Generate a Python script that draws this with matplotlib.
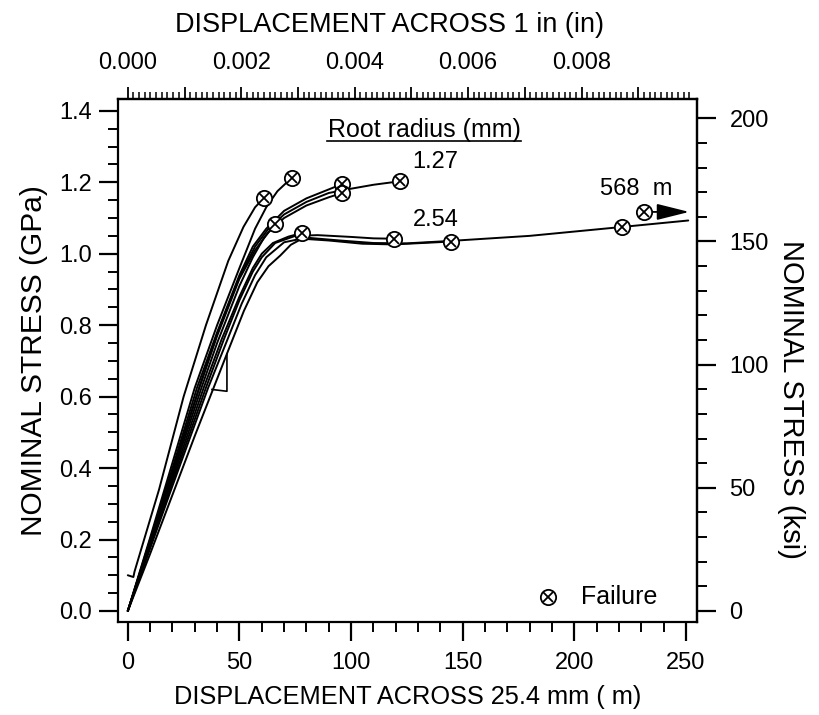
import matplotlib
matplotlib.use("Agg")
import matplotlib.pyplot as plt
import numpy as np

# ---------------- data (displacement in micrometres, stress in GPa) ----------------
c1_x = [0.0, 2.5, 3.0, 14, 25, 35, 45, 51.8, 57, 61.1]
c1_y = [0.10, 0.095, 0.11, 0.34, 0.60, 0.80, 0.98, 1.075, 1.13, 1.157]

c2_x = [0.0, 10, 20, 30, 40, 50, 57, 62, 67, 73.5]
c2_y = [0.0, 0.205, 0.415, 0.625, 0.80, 0.96, 1.07, 1.13, 1.175, 1.213]

c3_x = [0.0, 10, 20, 31, 40, 50, 56, 62, 70, 80, 90, 96]
c3_y = [0.0, 0.20, 0.40, 0.625, 0.78, 0.94, 1.02, 1.07, 1.12, 1.155, 1.18, 1.195]

c4_x = [0.0, 10, 20, 32, 40, 50, 57, 63, 70, 80, 90, 96]
c4_y = [0.0, 0.195, 0.39, 0.625, 0.77, 0.93, 1.01, 1.06, 1.10, 1.135, 1.158, 1.170]

c5_x = [0.0, 10, 20, 32, 40, 50, 57, 63, 70, 80, 90, 100, 110, 122.1]
c5_y = [0.0, 0.195, 0.39, 0.625, 0.775, 0.935, 1.02, 1.07, 1.11, 1.145, 1.17, 1.182, 1.193, 1.203]

c6_x = [0.0, 10, 20, 33, 40, 50, 56, 61, 66.1]
c6_y = [0.0, 0.19, 0.38, 0.625, 0.75, 0.91, 0.99, 1.045, 1.084]

c7_x = [0.0, 10, 20, 34, 42, 50, 56, 60, 65, 72, 78]
c7_y = [0.0, 0.185, 0.37, 0.625, 0.76, 0.88, 0.96, 1.00, 1.03, 1.048, 1.058]

c8_x = [0.0, 10, 20, 35, 43, 50, 56, 60, 66, 75, 85, 100, 110, 119.1]
c8_y = [0.0, 0.18, 0.36, 0.625, 0.76, 0.87, 0.95, 0.99, 1.03, 1.05, 1.052, 1.047, 1.043, 1.042]

c9_x = [0.0, 10, 20, 30, 44.4, 52, 58, 63, 68.3, 73, 78, 90, 105, 119, 132, 144.6]
c9_y = [0.0, 0.16, 0.325, 0.49, 0.72, 0.84, 0.92, 0.965, 0.995, 1.025, 1.042, 1.037, 1.028, 1.026, 1.030, 1.034]

c10_x = [0.0, 10, 20, 36, 44, 51, 57, 62, 70, 80, 95, 110, 125, 145, 180, 221.5, 251]
c10_y = [0.0, 0.175, 0.35, 0.625, 0.75, 0.86, 0.94, 0.99, 1.032, 1.045, 1.037, 1.030, 1.029, 1.036, 1.050, 1.075, 1.093]

step_x = [44.4, 44.4, 37.7]
step_y = [0.72, 0.615, 0.620]

fail_x = [61.1, 73.5, 96.0, 96.0, 122.1, 66.1, 78.0, 119.1, 144.6, 221.5]
fail_y = [1.157, 1.213, 1.195, 1.170, 1.203, 1.084, 1.058, 1.042, 1.034, 1.075]

beyond_x = [231.2]
beyond_y = [1.117]
arrow_end_x = 251.4

labels_text = ["1.27", "2.54", "568  m"]
labels_x = [137.8, 137.8, 227.7]
labels_y = [1.256, 1.095, 1.182]

top_ticks = [0.000, 0.001, 0.002, 0.003, 0.004, 0.005, 0.006, 0.007, 0.008, 0.009]
top_labels = ["0.000", "", "0.002", "", "0.004", "", "0.006", "", "0.008", ""]

curves = [(c1_x, c1_y), (c2_x, c2_y), (c3_x, c3_y), (c4_x, c4_y), (c5_x, c5_y),
          (c6_x, c6_y), (c7_x, c7_y), (c8_x, c8_y), (c9_x, c9_y), (c10_x, c10_y)]

# ---------------- fonts ----------------
plt.rcParams["font.family"] = ["Liberation Sans", "DejaVu Sans"]
FS = 17

fig = plt.figure(figsize=(8.19, 7.15), dpi=100)
ax = fig.add_axes([0.1435, 0.1305, 0.7075, 0.7305])

for cx, cy in curves:
    ax.plot(cx, cy, color="black", lw=1.4, solid_capstyle="round", solid_joinstyle="round")
ax.plot(step_x, step_y, color="black", lw=1.2)

def fail_marker(xs, ys, **kw):
    ax.plot(xs, ys, ls="none", marker="o", ms=11, mfc="white", mec="black", mew=1.3, zorder=5, **kw)
    ax.plot(xs, ys, ls="none", marker="x", ms=7.2, mec="black", mew=1.3, zorder=6, **kw)

fail_marker(fail_x, fail_y)
fail_marker(beyond_x, beyond_y)
ax.annotate("", xy=(arrow_end_x, beyond_y[0]), xytext=(beyond_x[0] + 3, beyond_y[0]),
            arrowprops=dict(arrowstyle="-|>,head_length=2.0,head_width=0.5", mutation_scale=10,
                            color="black", lw=1.3, shrinkA=0, shrinkB=0), zorder=4)

for t, x, y in zip(labels_text, labels_x, labels_y):
    ax.text(x, y, t, fontsize=FS, ha="center", va="center")

ax.text(0.529, 0.9416, "Root radius (mm)", transform=ax.transAxes, fontsize=18,
        ha="center", va="center")
ax.plot([0.361, 0.697], [0.921, 0.921], transform=ax.transAxes, color="black", lw=1.2)

# failure key
ax.plot([0.743], [0.047], transform=ax.transAxes, ls="none", marker="o", ms=11,
        mfc="white", mec="black", mew=1.3, clip_on=False)
ax.plot([0.743], [0.047], transform=ax.transAxes, ls="none", marker="x", ms=7.2,
        mec="black", mew=1.3, clip_on=False)
ax.text(0.800, 0.047, "Failure", transform=ax.transAxes, fontsize=18, ha="left", va="center")

# ---------------- axes ----------------
ax.set_xlim(-4.6, 254.9)
ax.set_ylim(-0.030, 1.432)
ax.set_xticks(np.arange(0, 251, 50))
ax.set_xticks(np.arange(0, 251, 10), minor=True)
yt = np.arange(0, 1.41, 0.2)
ax.set_yticks(yt)
ax.set_yticks(np.arange(0, 1.41, 0.05), minor=True)
ax.set_yticklabels([f"{v:.1f}" for v in yt])
for s in ax.spines.values():
    s.set_linewidth(1.6)
ax.tick_params(axis="both", which="major", direction="out", length=13.5, width=1.6, labelsize=FS)
ax.tick_params(axis="both", which="minor", direction="out", length=7.5, width=1.4)
ax.tick_params(axis="x", which="major", pad=8)
ax.tick_params(axis="y", which="major", pad=5)

ax.set_xlabel("DISPLACEMENT ACROSS 25.4 mm ( m)", fontsize=18.3, labelpad=8)
ax.set_ylabel("NOMINAL STRESS (GPa)", fontsize=21.5, labelpad=8)

# top axis: inches
top = ax.secondary_xaxis("top", functions=(lambda u: u / 25400.0, lambda i: i * 25400.0))
top.set_xticks(top_ticks)
top.set_xticks(np.arange(0, 0.00995, 0.0001), minor=True)
top.set_xticklabels(top_labels)
top.tick_params(which="major", direction="out", length=8.5, width=1.3, pad=10, labelsize=FS)
top.tick_params(which="minor", direction="out", length=5, width=1.1)
top.set_xlabel("DISPLACEMENT ACROSS 1 in (in)", fontsize=19.5, labelpad=14)
top.xaxis.label.set_x(0.47)
top.spines["top"].set_linewidth(1.6)

# right axis: ksi
right = ax.secondary_yaxis("right", functions=(lambda g: g * 145.038, lambda k: k / 145.038))
right.set_yticks(np.arange(0, 201, 50))
right.set_yticks(np.arange(0, 201, 10), minor=True)
right.tick_params(which="major", direction="out", length=13.5, width=1.6, labelsize=FS, pad=10)
right.tick_params(which="minor", direction="out", length=7, width=1.4)
right.set_ylabel("NOMINAL STRESS (ksi)", fontsize=21, rotation=270, labelpad=26)
right.yaxis.label.set_y(0.425)
right.spines["right"].set_linewidth(1.6)

fig.savefig("out.png", dpi=100, facecolor="white")
